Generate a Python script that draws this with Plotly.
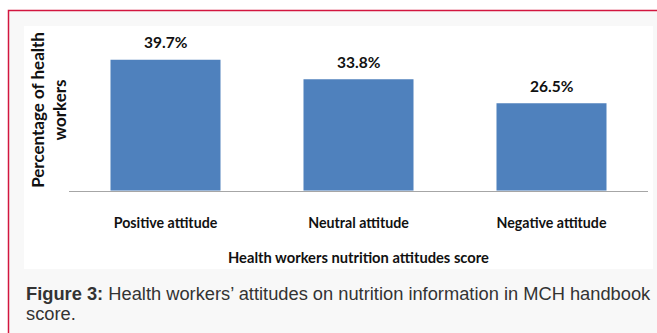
import plotly.graph_objects as go

categories = ["Positive attitude", "Neutral attitude", "Negative attitude"]
values = [39.7, 33.8, 26.5]
value_labels = ["39.7%", "33.8%", "26.5%"]

W, H = 657, 333

def px(x):
    return x / W

def py(y):
    return 1 - y / H

plot_left, plot_right = 69, 648
plot_top, plot_bottom = 30, 190.7
y_max = (plot_bottom - plot_top) / 3.3

chart_font = "Lato, Carlito, Calibri, sans-serif"

fig = go.Figure()
fig.add_trace(go.Bar(
    x=categories,
    y=values,
    marker=dict(color="#4f81bd", line=dict(width=0)),
    hoverinfo="skip",
))

for c, v, t in zip(categories, values, value_labels):
    fig.add_annotation(
        x=c, y=v, xref="x", yref="y", text=t, showarrow=False,
        yanchor="middle", yshift=17.5,
        font=dict(family=chart_font, size=15.5, color="#111111", weight="bold"),
    )

# y title
fig.add_annotation(
    x=px(48.5), y=py((plot_top + plot_bottom) / 2), xref="paper", yref="paper",
    text="Percentage of health<br>workers", showarrow=False, textangle=-90,
    xanchor="center", yanchor="middle",
    font=dict(family=chart_font, size=17, color="#111111", weight="bold"),
)

# x title
fig.add_annotation(
    x=px((plot_left + plot_right) / 2), y=py(257), xref="paper", yref="paper",
    text="Health workers nutrition attitudes score", showarrow=False,
    xanchor="center", yanchor="middle",
    font=dict(family=chart_font, size=14.7, color="#111111", weight="bold"),
)

# caption
fig.add_annotation(
    x=px(24), y=py(293), xref="paper", yref="paper",
    text="<b>Figure 3:</b> Health workers\u2019 attitudes on nutrition information in MCH handbook",
    showarrow=False, xanchor="left", yanchor="middle",
    font=dict(family="Arial, Liberation Sans, sans-serif", size=18.3, color="#333333"),
)
fig.add_annotation(
    x=px(24), y=py(313), xref="paper", yref="paper",
    text="score.", showarrow=False, xanchor="left", yanchor="middle",
    font=dict(family="Arial, Liberation Sans, sans-serif", size=18.3, color="#333333"),
)

shapes = [
    dict(type="rect", xref="paper", yref="paper", layer="below",
         x0=px(8.5), x1=px(720), y0=py(10.5), y1=py(420),
         line=dict(color="#d2163f", width=1.5), fillcolor="#f8f8f8"),
    dict(type="rect", xref="paper", yref="paper", layer="below",
         x0=px(24), x1=px(653), y0=py(26), y1=py(269),
         line=dict(width=0), fillcolor="#ffffff"),
]

fig.update_layout(
    width=W, height=H, autosize=False,
    margin=dict(l=0, r=0, t=0, b=0),
    paper_bgcolor="#ffffff",
    plot_bgcolor="rgba(0,0,0,0)",
    showlegend=False,
    bargap=0.43,
    shapes=shapes,
    xaxis=dict(
        domain=[px(plot_left), px(plot_right)],
        range=[-0.5, 2.5],
        showline=True, linecolor="#a6a6a6", linewidth=1,
        showgrid=False, zeroline=False,
        ticks="", ticklabelstandoff=19,
        tickfont=dict(family=chart_font, size=14.2, color="#111111", weight="bold"),
    ),
    yaxis=dict(
        domain=[py(plot_bottom), py(plot_top)],
        range=[0, y_max],
        showline=False, showgrid=False, zeroline=False,
        showticklabels=False, ticks="",
    ),
)

fig.write_html("out.html")
